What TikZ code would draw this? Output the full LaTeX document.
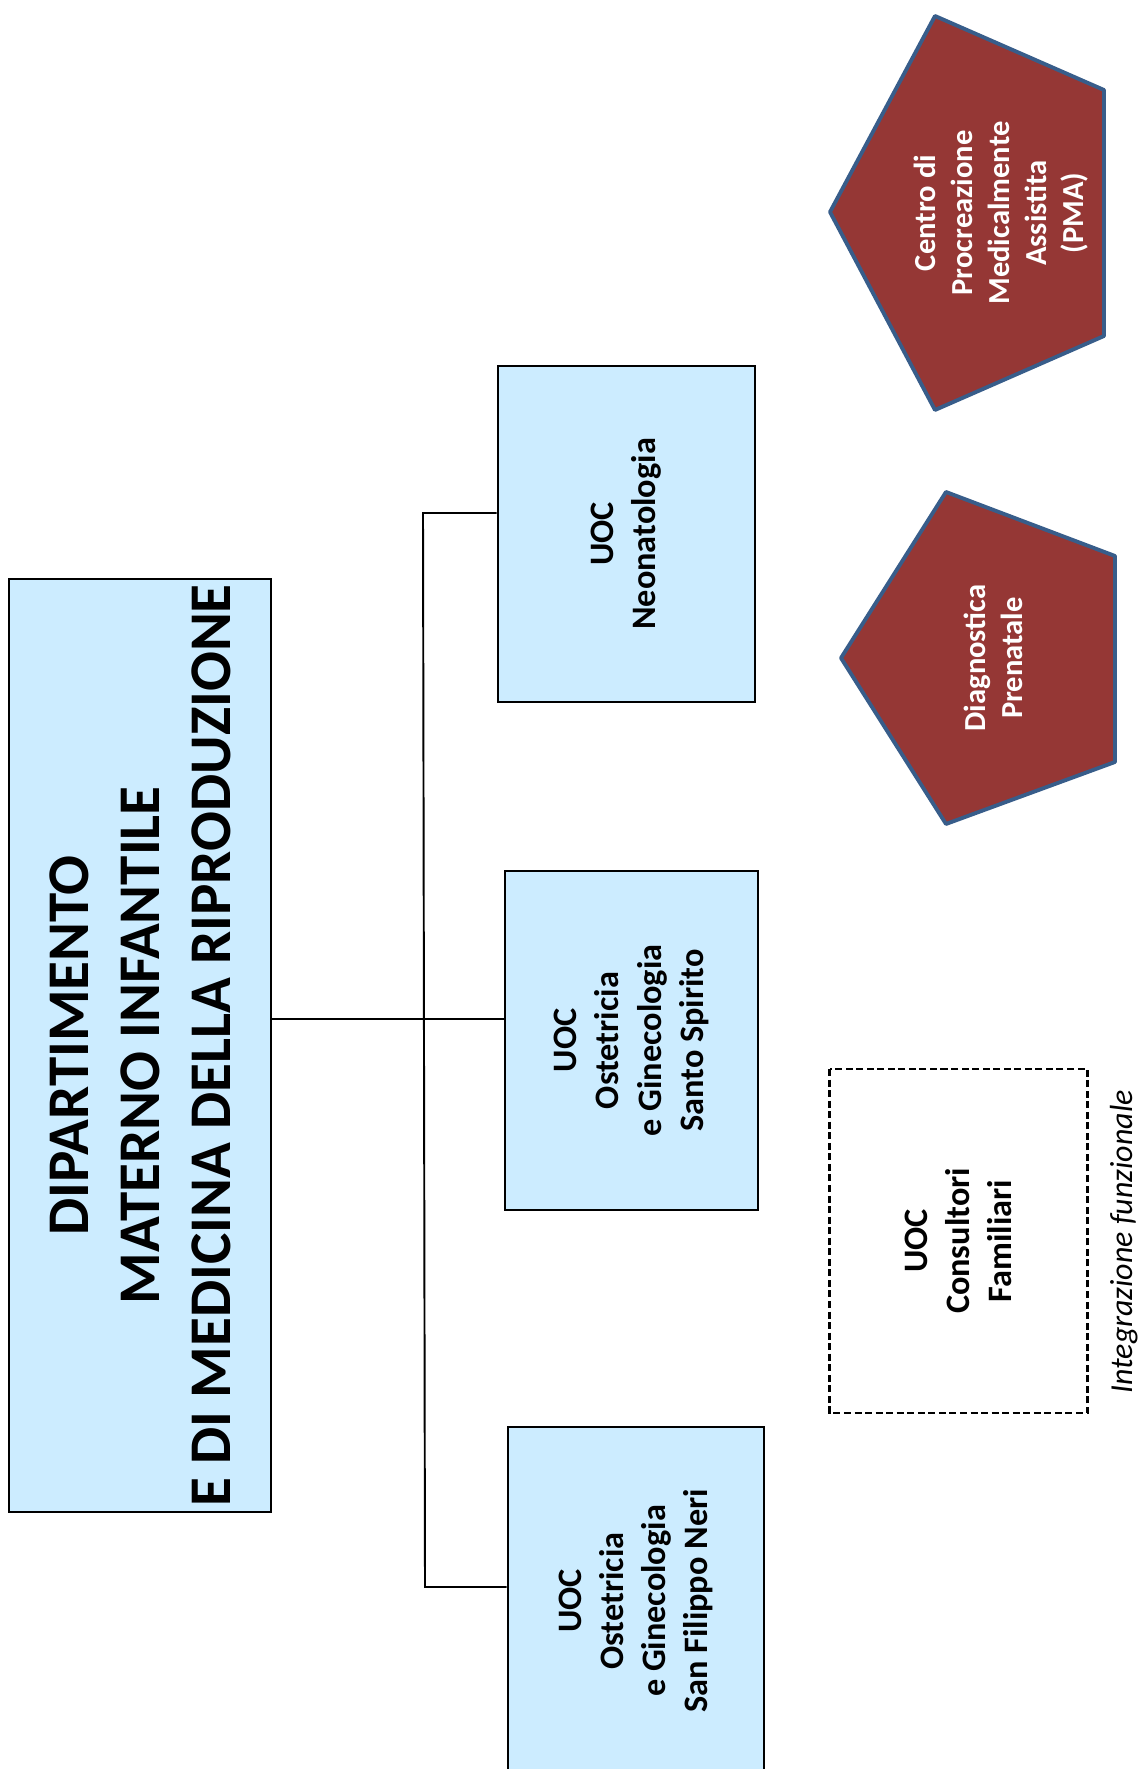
\documentclass[tikz,border=0pt]{standalone}
\usepackage{fontspec}
\setmainfont{Carlito}
\definecolor{celeste}{RGB}{204,236,255}
\definecolor{bordeaux}{RGB}{149,55,53}
\definecolor{bordoblu}{RGB}{56,93,138}
\begin{document}
\begin{tikzpicture}
        {

          \tikzstyle{dipart}=[draw=black,line width=0.75pt,fill=celeste,rotate=90,inner sep=0pt,minimum width=9.33cm,minimum height=2.62cm,align=center,font=\fontsize{16.8}{20.2}\selectfont\bfseries]
          \tikzstyle{unita}=[draw=black,line width=0.75pt,fill=celeste,rotate=90,inner sep=0pt,minimum width=3.38cm,minimum height=2.55cm,align=center,font=\fontsize{9.75}{12}\selectfont\bfseries]
          \tikzstyle{consult}=[unita,fill=none,dash pattern=on 2pt off 1pt]
          \tikzstyle{penta}=[draw=bordoblu,line width=1.1pt,fill=bordeaux,line join=round]
          \tikzstyle{testo}=[rotate=90,align=center,text=white,font=\fontsize{8.7}{10.5}\selectfont\bfseries]
          \tikzstyle{nota}=[rotate=90,font=\fontsize{9.1}{11}\selectfont\itshape]
          \tikzstyle{linea}=[draw=black,line width=0.55pt]
          \begin{scope}

            \useasboundingbox (0,0) rectangle (11.40,17.69);
            \clip (0,0) rectangle (11.40,17.69);

            \node [dipart] (dip) at (1.40,7.235) {DIPARTIMENTO\\MATERNO INFANTILE\\E DI MEDICINA DELLA RIPRODUZIONE};

            \node [unita,minimum width=3.36cm,minimum height=2.57cm] (neo) at (6.265,12.35) {UOC\\Neonatologia};

            \node [unita,minimum width=3.39cm,minimum height=2.53cm] (santo) at (6.315,7.285) {UOC\\Ostetricia\\e Ginecologia\\Santo Spirito};

            \node [unita,minimum width=3.48cm,minimum height=2.56cm] (sfn) at (6.36,1.68) {UOC\\Ostetricia\\e Ginecologia\\San Filippo Neri};

            \node [consult,minimum width=3.44cm,minimum height=2.58cm] (cons) at (9.585,5.28) {UOC\\Consultori\\Familiari};

            \node [nota] (integr) at (11.24,5.27) {Integrazione funzionale};

            % pentagoni
            \draw [penta] (9.46,12.77) -- (11.15,12.13) -- (11.15,10.07) -- (9.46,9.45) -- (8.41,11.11) -- cycle;
            \node [testo] (diag) at (9.93,11.11) {Diagnostica\\Prenatale};

            \draw [penta] (9.35,17.53) -- (11.04,16.79) -- (11.04,14.33) -- (9.35,13.59) -- (8.30,15.57) -- cycle;
            \node [testo] (pma) at (10.01,15.56) {Centro di\\Procreazione\\Medicalmente\\Assistita\\(PMA)};

            % collegamenti
            \coordinate (hub) at (4.23,7.50);
            \coordinate (bustop) at (4.23,12.56);
            \coordinate (busbot) at (4.25,1.82);

            \draw [linea] (hub -| dip.south) -- (hub -| santo.north);
            \draw [linea] (bustop -| neo.north) -- (bustop) -- (busbot) -- (busbot -| sfn.north);

          \end{scope}
        }
\end{tikzpicture}
\end{document}
